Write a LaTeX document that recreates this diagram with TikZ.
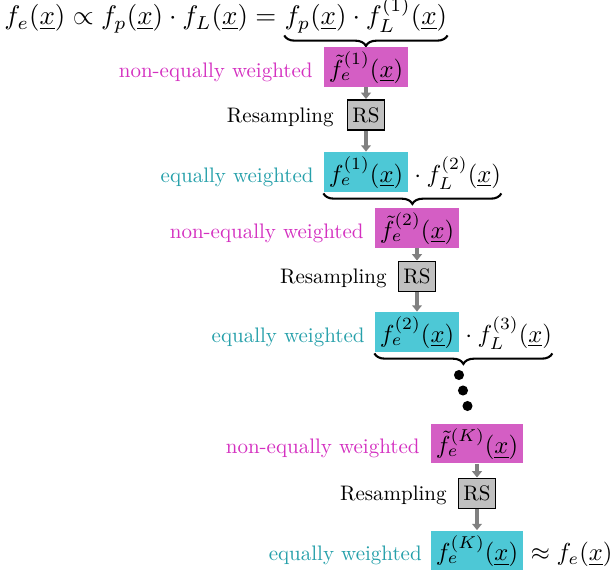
\documentclass[tikz,border=0pt]{standalone}
\usepackage{graphicx}
\usetikzlibrary{decorations.pathreplacing,arrows.meta}
\definecolor{magfill}{RGB}{212,94,196}
\definecolor{cyfill}{RGB}{77,200,214}
\definecolor{magtext}{RGB}{212,48,192}
\definecolor{cytext}{RGB}{38,160,170}
\definecolor{rsfill}{RGB}{192,192,192}
\definecolor{arrgray}{RGB}{128,128,128}
\newcommand{\bm}[1]{\scalebox{1.17}{$#1$}}
\begin{document}
\begin{tikzpicture}[x=0.47619pt,y=-0.47619pt,
  mathbox/.style={inner xsep=2.4pt, inner ysep=2.5pt, text height=12pt, text depth=2pt},
  magbox/.style={mathbox, fill=magfill},
  cybox/.style={mathbox, fill=cyfill},
  rsbox/.style={draw=black, line width=0.9pt, fill=rsfill, inner sep=0pt, minimum width=17.6pt, minimum height=14.3pt},
  flow/.style={draw=arrgray, line width=1.8pt, -{Triangle[length=3pt,width=4.6pt]}},
  maglabel/.style={text=magtext, anchor=base east, inner sep=0pt},
  cylabel/.style={text=cytext, anchor=base east, inner sep=0pt},
  blklabel/.style={anchor=base east, inner sep=0pt},
  tail/.style={anchor=base west, inner sep=0pt},
  bracket/.style={decorate, decoration={brace, mirror, amplitude=5pt}, line width=1pt},
  dotmark/.style={fill=black}]
\useasboundingbox (0,0) rectangle (615,573);

% top formula
\node[tail] (TL) at (4,25) {\scalebox{1.28}{$f_e(\underline{x}) \propto f_p(\underline{x})\cdot f_L(\underline{x}) = {}$}};
\node[tail] (TR) at (TL.base east) {\scalebox{1.28}{$f_p(\underline{x})\cdot f_L^{(1)}(\underline{x})$}};
\draw[bracket] ([yshift=-1pt]TR.south west) -- ([yshift=-1pt]TR.south east);

% stage 1
\node[magbox] (M1) at (366,67) {\bm{\tilde{f}_e^{(1)}(\underline{x})}};
\node[maglabel] (LM1) at ([xshift=-5pt]M1.base west) {non-equally weighted};
\node[rsbox] (R1) at (366,115) {RS};
\node[blklabel] (LR1) at ([xshift=-6pt]R1.base west) {Resampling};
\node[cybox] (C1) at (366,172) {\bm{f_e^{(1)}(\underline{x})}};
\node[cylabel] (LC1) at ([xshift=-4.5pt]C1.base west) {equally weighted};
\node[tail] (T1) at (C1.base east) {\bm{{}\cdot f_L^{(2)}(\underline{x})}};
\draw[bracket] ([yshift=-0.5pt]C1.south west) -- ([yshift=-0.5pt]C1.south west -| T1.east);
\draw[flow] (M1) -- (R1);
\draw[flow] (R1) -- (C1);

% stage 2
\node[magbox] (M2) at (417,228) {\bm{\tilde{f}_e^{(2)}(\underline{x})}};
\node[maglabel] (LM2) at ([xshift=-5pt]M2.base west) {non-equally weighted};
\node[rsbox] (R2) at (417,276.5) {RS};
\node[blklabel] (LR2) at ([xshift=-5pt]R2.base west) {Resampling};
\node[cybox] (C2) at (417,332) {\bm{f_e^{(2)}(\underline{x})}};
\node[cylabel] (LC2) at ([xshift=-4.5pt]C2.base west) {equally weighted};
\node[tail] (T2) at (C2.base east) {\bm{{}\cdot f_L^{(3)}(\underline{x})}};
\draw[bracket] ([yshift=-0.5pt]C2.south west) -- ([yshift=-0.5pt]C2.south west -| T2.east);
\draw[flow] (M2) -- (R2);
\draw[flow] (R2) -- (C2);

% dots
\fill[dotmark] (459,375) circle[radius=2.4pt];
\fill[dotmark] (463,390.5) circle[radius=2.4pt];
\fill[dotmark] (467.5,406) circle[radius=2.4pt];

% stage K
\node[magbox] (M3) at (477,443.5) {\bm{\tilde{f}_e^{(K)}(\underline{x})}};
\node[maglabel] (LM3) at ([xshift=-5pt]M3.base west) {non-equally weighted};
\node[rsbox] (R3) at (477,493.5) {RS};
\node[blklabel] (LR3) at ([xshift=-5pt]R3.base west) {Resampling};
\node[cybox] (C3) at (477,550.5) {\bm{f_e^{(K)}(\underline{x})}};
\node[cylabel] (LC3) at ([xshift=-4pt]C3.base west) {equally weighted};
\node[tail] (T3) at (C3.base east) {\bm{{}\approx f_e(\underline{x})}};
\draw[flow] (M3) -- (R3);
\draw[flow] (R3) -- (C3);
\end{tikzpicture}
\end{document}
